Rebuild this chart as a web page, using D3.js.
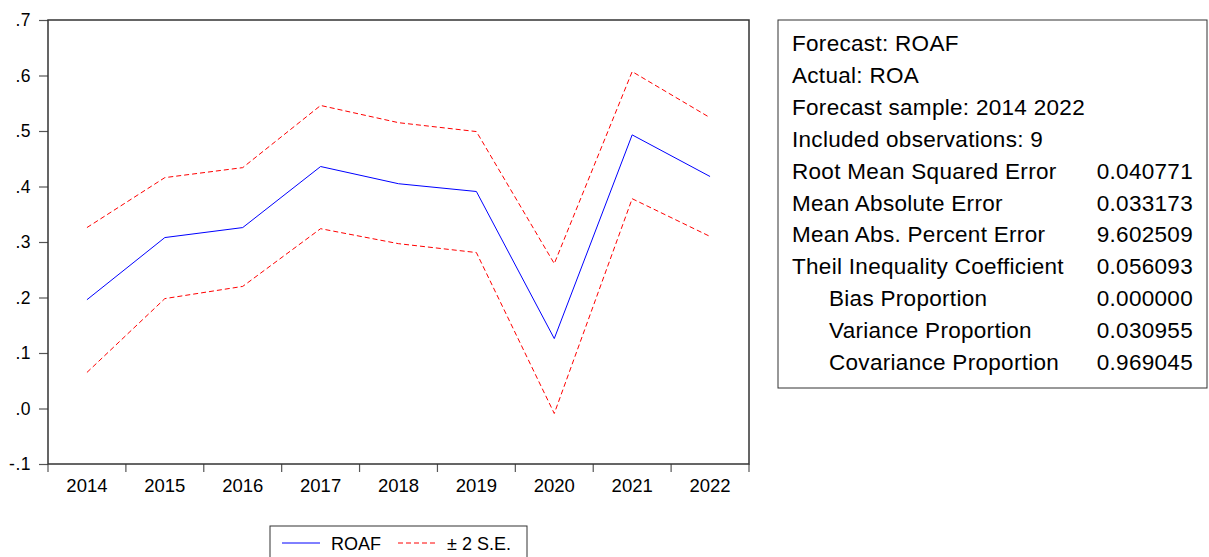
<!DOCTYPE html>
<html>
<head>
<meta charset="utf-8">
<script src="https://cdn.jsdelivr.net/npm/d3@7/dist/d3.min.js"></script>
<style>
html,body{margin:0;padding:0;background:#fff;}
svg{display:block;font-family:"Liberation Sans",Arial,sans-serif;}
</style>
</head>
<body>
<svg id="chart" width="1209" height="557"></svg>
<script>
const years = ["2014","2015","2016","2017","2018","2019","2020","2021","2022"];
const roaf  = [0.196, 0.308, 0.326, 0.436, 0.405, 0.391, 0.126, 0.493, 0.418];
const upper = [0.326, 0.416, 0.434, 0.546, 0.515, 0.499, 0.261, 0.607, 0.524];
const lower = [0.065, 0.198, 0.220, 0.324, 0.297, 0.281, -0.009, 0.378, 0.310];
const yTicks = [-0.1, 0.0, 0.1, 0.2, 0.3, 0.4, 0.5, 0.6, 0.7];
const statLabels = ["Forecast: ROAF","Actual: ROA","Forecast sample: 2014 2022","Included observations: 9",
  "Root Mean Squared Error","Mean Absolute Error","Mean Abs. Percent Error","Theil Inequality Coefficient",
  "Bias Proportion","Variance Proportion","Covariance Proportion"];
const statValues = ["","","","","0.040771","0.033173","9.602509","0.056093","0.000000","0.030955","0.969045"];
const statIndent = [0,0,0,0,0,0,0,0,1,1,1];
const legendLabels = ["ROAF","± 2 S.E."];

const svg = d3.select("#chart");
const L = 48, T = 20, R = 749, B = 464;
const FONT = "Liberation Sans, Arial, sans-serif";

const x = d3.scaleBand().domain(years).range([L, R]);
const y = d3.scaleLinear().domain([-0.1, 0.7]).range([B, T]);

const fmt = v => d3.format(".1f")(v).replace("\u2212", "-").replace(/^(-?)0\./, "$1.");

// y axis
const yAxis = svg.append("g").attr("transform", `translate(${L},0)`)
  .call(d3.axisLeft(y).tickValues(yTicks).tickFormat(fmt).tickSize(9).tickPadding(8));
yAxis.attr("font-size", null).attr("font-family", null);
yAxis.select(".domain").remove();
yAxis.selectAll("line").attr("stroke", "#555").attr("stroke-width", 1.2);
yAxis.selectAll("text").attr("font-size", 17.5).attr("fill", "#000")
  .attr("font-family", FONT).attr("letter-spacing", 0.5);

// x axis with ticks at band boundaries
const xAxis = svg.append("g").attr("transform", `translate(0,${B})`)
  .call(d3.axisBottom(x).tickSize(0).tickPadding(15));
xAxis.attr("font-size", null).attr("font-family", null);
xAxis.select(".domain").remove();
xAxis.selectAll("text").attr("font-size", 18.5).attr("fill", "#000")
  .attr("font-family", FONT);
const bounds = years.map(d => x(d)).concat([x(years[years.length-1]) + x.bandwidth()]);
svg.append("g").selectAll("line").data(bounds).join("line")
  .attr("x1", d => d).attr("x2", d => d).attr("y1", B).attr("y2", B + 8)
  .attr("stroke", "#555").attr("stroke-width", 1.2);

// frame
svg.append("rect").attr("x", L).attr("y", T).attr("width", R - L).attr("height", B - T)
  .attr("fill", "none").attr("stroke", "#333").attr("stroke-width", 1.5);

const line = d3.line().x((d, i) => x(years[i]) + x.bandwidth() / 2).y(d => y(d));

svg.append("path").datum(upper).attr("d", line).attr("fill", "none")
  .attr("stroke", "#ff0000").attr("stroke-width", 1).attr("stroke-dasharray", "5,3");
svg.append("path").datum(lower).attr("d", line).attr("fill", "none")
  .attr("stroke", "#ff0000").attr("stroke-width", 1).attr("stroke-dasharray", "5,3");
svg.append("path").datum(roaf).attr("d", line).attr("fill", "none")
  .attr("stroke", "#0000ff").attr("stroke-width", 1);

// stats box
svg.append("rect").attr("x", 778).attr("y", 20).attr("width", 429).attr("height", 368)
  .attr("fill", "none").attr("stroke", "#333").attr("stroke-width", 1);
const sg = svg.append("g").attr("font-size", 22.5).attr("fill", "#000").attr("letter-spacing", 0.3);
sg.selectAll("text.lab").data(statLabels).join("text").attr("class", "lab")
  .attr("x", (d, i) => statIndent[i] ? 829 : 792)
  .attr("y", (d, i) => 51 + i * 31.9)
  .text(d => d);
sg.selectAll("text.val").data(statValues).join("text").attr("class", "val")
  .attr("x", 1193).attr("text-anchor", "end")
  .attr("y", (d, i) => 51 + i * 31.9)
  .text(d => d);

// legend
svg.append("rect").attr("x", 270).attr("y", 526).attr("width", 257).attr("height", 40)
  .attr("fill", "#fff").attr("stroke", "#333").attr("stroke-width", 1);
svg.append("line").attr("x1", 282).attr("x2", 320).attr("y1", 543).attr("y2", 543)
  .attr("stroke", "#0000ff").attr("stroke-width", 1);
svg.append("line").attr("x1", 398).attr("x2", 437).attr("y1", 543).attr("y2", 543)
  .attr("stroke", "#ff0000").attr("stroke-width", 1).attr("stroke-dasharray", "5,3");
svg.append("text").attr("x", 331).attr("y", 549.5).attr("font-size", 18).text(legendLabels[0]);
svg.append("text").attr("x", 447).attr("y", 549.5).attr("font-size", 18).text(legendLabels[1]);
</script>
</body>
</html>
